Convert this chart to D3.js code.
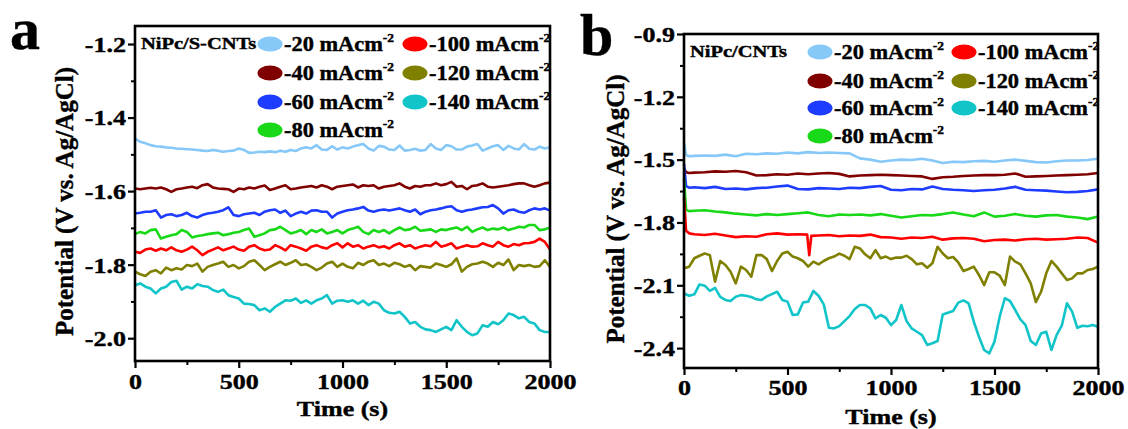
<!DOCTYPE html>
<html>
<head>
<meta charset="utf-8">
<script src="https://cdn.jsdelivr.net/npm/d3@7"></script>
<style>
  body { margin: 0; background: #fff; }
  svg text { font-family: "Liberation Serif", "Times New Roman", serif !important; font-weight: bold; fill: #000; stroke: #000; stroke-width: 0.4px; }
</style>
</head>
<body>
<svg id="chart" width="1128" height="429"></svg>
<script>
// time stamps (s)
const time25 = [0, 25, 50, 75, 100, 125, 150, 175, 200, 225, 250, 275, 300, 325, 350, 375, 400, 425, 450, 475,
  500, 525, 550, 575, 600, 625, 650, 675, 700, 725, 750, 775, 800, 825, 850, 875, 900, 925, 950, 975,
  1000, 1025, 1050, 1075, 1100, 1125, 1150, 1175, 1200, 1225, 1250, 1275, 1300, 1325, 1350, 1375, 1400, 1425, 1450, 1475,
  1500, 1525, 1550, 1575, 1600, 1625, 1650, 1675, 1700, 1725, 1750, 1775, 1800, 1825, 1850, 1875, 1900, 1925, 1950, 1975, 2000];
const timeB = [0, 10, 25, 50, 100, 150, 200, 250, 300, 350, 400, 450, 500, 550, 600, 650, 700, 750, 800, 850, 900, 950,
  1000, 1050, 1100, 1150, 1200, 1250, 1300, 1350, 1400, 1450, 1500, 1550, 1600, 1650, 1700, 1750, 1800, 1850, 1900, 1950, 2000];
const timeBRed = [0, 10, 25, 50, 100, 150, 200, 250, 300, 350, 400, 450, 500, 550, 595, 605, 615, 650, 700, 750, 800, 850, 900, 950,
  1000, 1050, 1100, 1150, 1200, 1250, 1300, 1350, 1400, 1450, 1500, 1550, 1600, 1650, 1700, 1750, 1800, 1850, 1900, 1950, 2000];

const currents = ['-20', '-40', '-60', '-80', '-100', '-120', '-140'];
const colors = ['#86c8f8', '#800000', '#1e3cff', '#18d818', '#ff0000', '#808000', '#10c4c8'];

// NiPc/S-CNTs potential (V vs. Ag/AgCl), every 25 s
const a20 = [-1.457, -1.466, -1.470, -1.475, -1.478, -1.479, -1.481, -1.482, -1.484, -1.485, -1.486, -1.487, -1.488, -1.490, -1.491, -1.488, -1.490, -1.493, -1.491, -1.490,
  -1.484, -1.488, -1.496, -1.495, -1.493, -1.494, -1.492, -1.494, -1.490, -1.493, -1.488, -1.491, -1.484, -1.481, -1.484, -1.475, -1.487, -1.488, -1.478, -1.487,
  -1.481, -1.484, -1.479, -1.475, -1.472, -1.484, -1.490, -1.477, -1.479, -1.487, -1.488, -1.476, -1.490, -1.488, -1.485, -1.490, -1.488, -1.472, -1.484, -1.488,
  -1.475, -1.478, -1.487, -1.487, -1.479, -1.476, -1.472, -1.490, -1.484, -1.478, -1.475, -1.488, -1.477, -1.484, -1.487, -1.472, -1.485, -1.487, -1.479, -1.484, -1.481];
const a40 = [-1.593, -1.595, -1.593, -1.591, -1.593, -1.590, -1.595, -1.602, -1.595, -1.593, -1.590, -1.588, -1.592, -1.584, -1.581, -1.590, -1.593, -1.594, -1.595, -1.602,
  -1.593, -1.595, -1.590, -1.593, -1.588, -1.585, -1.597, -1.593, -1.588, -1.584, -1.595, -1.593, -1.590, -1.588, -1.586, -1.590, -1.584, -1.588, -1.595, -1.588,
  -1.586, -1.584, -1.582, -1.590, -1.584, -1.586, -1.584, -1.593, -1.588, -1.586, -1.584, -1.579, -1.588, -1.593, -1.586, -1.588, -1.584, -1.584, -1.579, -1.584,
  -1.581, -1.575, -1.588, -1.586, -1.595, -1.586, -1.584, -1.579, -1.588, -1.590, -1.588, -1.586, -1.584, -1.581, -1.579, -1.579, -1.584, -1.588, -1.584, -1.579, -1.577];
const a60 = [-1.661, -1.659, -1.656, -1.656, -1.652, -1.672, -1.665, -1.663, -1.668, -1.665, -1.659, -1.668, -1.672, -1.665, -1.661, -1.659, -1.656, -1.652, -1.644, -1.665,
  -1.668, -1.663, -1.661, -1.659, -1.665, -1.656, -1.652, -1.650, -1.659, -1.653, -1.668, -1.661, -1.656, -1.661, -1.653, -1.652, -1.656, -1.656, -1.672, -1.661,
  -1.656, -1.652, -1.650, -1.647, -1.643, -1.653, -1.656, -1.652, -1.650, -1.653, -1.650, -1.647, -1.652, -1.656, -1.650, -1.663, -1.656, -1.652, -1.650, -1.647,
  -1.643, -1.641, -1.652, -1.656, -1.652, -1.650, -1.647, -1.644, -1.643, -1.638, -1.647, -1.661, -1.652, -1.650, -1.656, -1.659, -1.652, -1.647, -1.650, -1.647, -1.653];
const a80 = [-1.717, -1.711, -1.715, -1.706, -1.704, -1.729, -1.724, -1.720, -1.717, -1.706, -1.711, -1.726, -1.722, -1.720, -1.717, -1.715, -1.713, -1.720, -1.717, -1.713,
  -1.711, -1.706, -1.702, -1.724, -1.720, -1.715, -1.706, -1.704, -1.697, -1.706, -1.715, -1.711, -1.706, -1.717, -1.706, -1.711, -1.704, -1.715, -1.711, -1.706,
  -1.715, -1.706, -1.702, -1.697, -1.711, -1.717, -1.706, -1.711, -1.706, -1.715, -1.706, -1.699, -1.706, -1.704, -1.697, -1.708, -1.706, -1.704, -1.711, -1.704,
  -1.706, -1.702, -1.699, -1.706, -1.697, -1.711, -1.704, -1.699, -1.706, -1.702, -1.704, -1.699, -1.706, -1.702, -1.697, -1.699, -1.692, -1.692, -1.706, -1.704, -1.699];
const a100 = [-1.765, -1.768, -1.759, -1.756, -1.762, -1.756, -1.761, -1.753, -1.761, -1.765, -1.759, -1.751, -1.761, -1.774, -1.765, -1.759, -1.753, -1.761, -1.756, -1.751,
  -1.759, -1.762, -1.751, -1.747, -1.756, -1.761, -1.759, -1.747, -1.753, -1.761, -1.747, -1.751, -1.756, -1.762, -1.751, -1.747, -1.753, -1.756, -1.747, -1.742,
  -1.753, -1.742, -1.751, -1.747, -1.756, -1.751, -1.747, -1.753, -1.750, -1.756, -1.747, -1.742, -1.751, -1.747, -1.756, -1.751, -1.747, -1.750, -1.738, -1.751,
  -1.747, -1.742, -1.756, -1.751, -1.747, -1.751, -1.750, -1.742, -1.747, -1.751, -1.738, -1.747, -1.751, -1.744, -1.747, -1.742, -1.741, -1.738, -1.729, -1.738, -1.759];
const a120 = [-1.819, -1.826, -1.831, -1.819, -1.815, -1.824, -1.808, -1.815, -1.810, -1.813, -1.801, -1.804, -1.797, -1.819, -1.806, -1.801, -1.797, -1.792, -1.806, -1.801,
  -1.810, -1.804, -1.792, -1.788, -1.801, -1.815, -1.806, -1.799, -1.792, -1.801, -1.795, -1.788, -1.801, -1.799, -1.806, -1.815, -1.808, -1.797, -1.792, -1.806,
  -1.797, -1.806, -1.810, -1.795, -1.801, -1.792, -1.788, -1.801, -1.797, -1.804, -1.795, -1.799, -1.806, -1.801, -1.815, -1.804, -1.806, -1.808, -1.797, -1.801,
  -1.806, -1.799, -1.783, -1.819, -1.806, -1.799, -1.797, -1.792, -1.797, -1.806, -1.795, -1.801, -1.786, -1.815, -1.801, -1.804, -1.801, -1.806, -1.804, -1.788, -1.806];
const a140 = [-1.856, -1.851, -1.860, -1.865, -1.878, -1.865, -1.860, -1.847, -1.844, -1.868, -1.860, -1.865, -1.853, -1.858, -1.860, -1.869, -1.874, -1.868, -1.883, -1.888,
  -1.892, -1.906, -1.907, -1.910, -1.924, -1.919, -1.928, -1.915, -1.906, -1.897, -1.898, -1.892, -1.904, -1.897, -1.906, -1.897, -1.892, -1.883, -1.906, -1.898,
  -1.897, -1.901, -1.897, -1.906, -1.898, -1.910, -1.901, -1.906, -1.924, -1.931, -1.933, -1.928, -1.942, -1.960, -1.956, -1.969, -1.976, -1.978, -1.983, -1.976,
  -1.969, -1.978, -1.951, -1.969, -1.983, -1.992, -1.987, -1.965, -1.969, -1.956, -1.962, -1.951, -1.933, -1.937, -1.946, -1.942, -1.956, -1.960, -1.978, -1.983, -1.983];

// NiPc/CNTs potential (V vs. Ag/AgCl)
const b20 = [-1.420, -1.478, -1.484, -1.482, -1.480, -1.482, -1.476, -1.484, -1.472, -1.474, -1.470, -1.472, -1.466, -1.470, -1.464, -1.468, -1.466, -1.468, -1.470, -1.494, -1.500, -1.510,
  -1.504, -1.500, -1.502, -1.496, -1.504, -1.516, -1.510, -1.512, -1.508, -1.506, -1.510, -1.504, -1.500, -1.506, -1.512, -1.514, -1.508, -1.504, -1.504, -1.502, -1.496];
const b40 = [-1.540, -1.560, -1.564, -1.562, -1.560, -1.556, -1.558, -1.554, -1.560, -1.576, -1.574, -1.570, -1.572, -1.566, -1.570, -1.566, -1.564, -1.568, -1.580, -1.576, -1.574, -1.572,
  -1.574, -1.576, -1.578, -1.580, -1.592, -1.584, -1.582, -1.578, -1.576, -1.574, -1.574, -1.572, -1.566, -1.582, -1.580, -1.578, -1.576, -1.574, -1.572, -1.570, -1.564];
const b60 = [-1.520, -1.626, -1.634, -1.632, -1.636, -1.630, -1.640, -1.638, -1.642, -1.636, -1.634, -1.628, -1.624, -1.640, -1.642, -1.636, -1.638, -1.640, -1.634, -1.636, -1.630, -1.626,
  -1.644, -1.646, -1.640, -1.642, -1.628, -1.640, -1.644, -1.646, -1.650, -1.646, -1.644, -1.638, -1.630, -1.644, -1.646, -1.648, -1.652, -1.656, -1.654, -1.650, -1.642];
const b80 = [-1.590, -1.740, -1.746, -1.744, -1.742, -1.748, -1.752, -1.758, -1.762, -1.766, -1.760, -1.764, -1.760, -1.756, -1.752, -1.764, -1.770, -1.762, -1.764, -1.762, -1.766, -1.760,
  -1.768, -1.776, -1.770, -1.764, -1.766, -1.760, -1.752, -1.762, -1.770, -1.752, -1.772, -1.768, -1.760, -1.768, -1.772, -1.766, -1.764, -1.772, -1.776, -1.784, -1.772];
const b100 = [-1.680, -1.840, -1.852, -1.856, -1.860, -1.854, -1.862, -1.870, -1.866, -1.868, -1.856, -1.852, -1.858, -1.856,
  -1.858, -1.956, -1.864, -1.862, -1.860, -1.866, -1.862, -1.864, -1.858, -1.870,
  -1.872, -1.878, -1.872, -1.874, -1.868, -1.882, -1.876, -1.874, -1.878, -1.890, -1.884, -1.882, -1.886, -1.880, -1.878, -1.882, -1.880, -1.878, -1.872, -1.874, -1.896];
// every 25 s
const b120 = [-2.019, -2.011, -1.971, -1.959, -1.948, -1.956, -2.083, -1.984, -2.003, -2.035, -2.091, -2.011, -2.027, -2.059, -1.956, -1.956, -1.975, -2.032, -1.984, -1.948,
  -1.940, -1.963, -1.971, -1.984, -2.011, -1.987, -2.000, -1.984, -1.971, -1.963, -1.949, -1.959, -1.975, -1.916, -1.924, -1.952, -1.971, -1.932, -1.971, -1.963,
  -1.975, -1.967, -1.968, -1.959, -1.975, -2.000, -1.995, -2.016, -1.995, -1.916, -1.948, -1.971, -1.965, -1.991, -2.032, -2.022, -2.011, -2.051, -2.099, -2.038,
  -2.038, -2.054, -2.099, -1.963, -1.987, -2.000, -2.043, -2.091, -2.180, -2.131, -2.043, -1.984, -2.011, -2.043, -2.075, -2.067, -2.043, -2.043, -2.027, -2.022, -2.011];
const b140 = [-2.139, -2.150, -2.143, -2.096, -2.102, -2.127, -2.112, -2.155, -2.170, -2.175, -2.155, -2.147, -2.150, -2.156, -2.167, -2.170, -2.153, -2.142, -2.131, -2.170,
  -2.178, -2.242, -2.239, -2.182, -2.178, -2.127, -2.150, -2.191, -2.303, -2.306, -2.295, -2.271, -2.247, -2.213, -2.194, -2.194, -2.210, -2.258, -2.242, -2.255,
  -2.290, -2.266, -2.194, -2.271, -2.306, -2.322, -2.338, -2.385, -2.377, -2.366, -2.239, -2.231, -2.223, -2.183, -2.172, -2.186, -2.274, -2.346, -2.409, -2.425,
  -2.369, -2.250, -2.162, -2.175, -2.218, -2.263, -2.290, -2.366, -2.385, -2.330, -2.322, -2.409, -2.338, -2.293, -2.186, -2.226, -2.303, -2.293, -2.296, -2.290, -2.298];

const xTicks = [0, 500, 1000, 1500, 2000];
const xMinor = [250, 750, 1250, 1750];
const yTicksA = [-2.0, -1.8, -1.6, -1.4, -1.2];
const yMinorA = [-1.9, -1.7, -1.5, -1.3];
const yTicksB = [-2.4, -2.1, -1.8, -1.5, -1.2, -0.9];
const yMinorB = [-2.25, -1.95, -1.65, -1.35, -1.05];

const svg = d3.select('#chart');
const SX = 1.24; // the original figure is stretched horizontally
const FONT = '"Liberation Serif", "Times New Roman", serif';

function drawPanel(p) {
  const x = d3.scaleLinear().domain([0, 2000]).range([p.left, p.right]);
  const y = d3.scaleLinear().domain(p.yDomain).range([p.bottom, p.top]);
  const g = svg.append('g');

  // data lines
  g.append('g')
    .attr('fill', 'none')
    .attr('stroke-width', 2.6)
    .attr('stroke-linejoin', 'round')
    .selectAll('path')
    .data(p.series)
    .join('path')
    .attr('stroke', (d, i) => colors[i])
    .attr('d', (d, i) => d3.line().x((v, j) => x(p.times[i][j])).y(v => y(v))(d));

  // minor ticks
  g.append('g')
    .attr('transform', `translate(0,${p.bottom})`)
    .call(d3.axisBottom(x).tickValues(xMinor).tickSize(4).tickFormat(''))
    .call(s => s.select('.domain').remove())
    .selectAll('line').attr('stroke-width', 2);
  g.append('g')
    .attr('transform', `translate(${p.left},0)`)
    .call(d3.axisLeft(y).tickValues(p.yMinor).tickSize(4).tickFormat(''))
    .call(s => s.select('.domain').remove())
    .selectAll('line').attr('stroke-width', 2);

  // major ticks
  const xa = g.append('g')
    .attr('transform', `translate(0,${p.bottom})`)
    .attr('font-family', FONT)
    .call(d3.axisBottom(x).tickValues(xTicks).tickSize(7).tickFormat(d => d));
  xa.select('.domain').remove();
  xa.selectAll('line').attr('stroke-width', 2.2);
  xa.selectAll('text')
    .attr('y', null).attr('dy', null)
    .attr('font-size', 21)
    .attr('transform', `translate(0,${p.xLabelDy}) scale(${SX},1)`);

  const ya = g.append('g')
    .attr('transform', `translate(${p.left},0)`)
    .attr('font-family', FONT)
    .call(d3.axisLeft(y).tickValues(p.yTicks).tickSize(7).tickFormat(d => d.toFixed(1)));
  ya.select('.domain').remove();
  ya.selectAll('line').attr('stroke-width', 2.2);
  ya.selectAll('text')
    .attr('x', null).attr('dy', '0.35em')
    .attr('font-size', 21)
    .attr('transform', `translate(-9,0) scale(${SX},1)`);

  // frame
  g.append('rect')
    .attr('x', p.left).attr('y', p.top)
    .attr('width', p.right - p.left).attr('height', p.bottom - p.top)
    .attr('fill', 'none').attr('stroke', '#000').attr('stroke-width', 2.6);

  // axis titles
  g.append('text')
    .attr('text-anchor', 'middle')
    .attr('font-size', 21)
    .attr('transform', `translate(${(p.left + p.right) / 2},${p.titleY}) scale(1.24,1)`)
    .text('Time (s)');
  g.append('text')
    .attr('text-anchor', 'middle')
    .attr('font-size', 25)
    .attr('transform', `translate(${p.yTitleX},${(p.top + p.bottom) / 2 + 8}) rotate(-90)`)
    .text('Potential (V vs. Ag/AgCl)');

  // panel letter
  g.append('text')
    .attr('x', p.letterX).attr('y', p.letterY)
    .attr('font-size', 60)
    .text(p.letter);

  // legend
  g.append('text')
    .attr('font-size', 16)
    .attr('transform', `translate(${p.left + 6},${p.legRows[0] + 5}) scale(1.28,1)`)
    .text(p.name);

  currents.forEach((c, i) => {
    const col = i < 4 ? 0 : 1;
    const row = i < 4 ? i : i - 4;
    const cx = p.legCols[col];
    const cy = p.legRows[row];
    const item = g.append('g');
    item.append('ellipse')
      .attr('cx', cx).attr('cy', cy)
      .attr('rx', 12.5).attr('ry', 7.5)
      .attr('fill', colors[i]);
    const t = item.append('text')
      .attr('font-size', 20)
      .attr('transform', `translate(${cx + 14},${cy + 7}) scale(1.12,1)`);
    t.append('tspan').text(`${c} mAcm`);
    t.append('tspan').attr('font-size', 12).attr('dy', -9).text('-2');
  });
}

drawPanel({
  letter: 'a', letterX: 10, letterY: 49,
  name: 'NiPc/S-CNTs',
  left: 135, right: 550, top: 26, bottom: 361,
  yDomain: [-2.062, -1.151],
  yTicks: yTicksA, yMinor: yMinorA,
  times: [time25, time25, time25, time25, time25, time25, time25],
  series: [a20, a40, a60, a80, a100, a120, a140],
  xLabelDy: 28, titleY: 416, yTitleX: 73,
  legCols: [270, 415], legRows: [44, 73, 102, 130]
});

drawPanel({
  letter: 'b', letterX: 580, letterY: 55,
  name: 'NiPc/CNTs',
  left: 684, right: 1098, top: 34, bottom: 368,
  yDomain: [-2.495, -0.9],
  yTicks: yTicksB, yMinor: yMinorB,
  times: [timeB, timeB, timeB, timeB, timeBRed, time25, time25],
  series: [b20, b40, b60, b80, b100, b120, b140],
  xLabelDy: 27, titleY: 424, yTitleX: 624,
  legCols: [820, 964], legRows: [52, 81, 108, 136]
});
</script>
</body>
</html>
